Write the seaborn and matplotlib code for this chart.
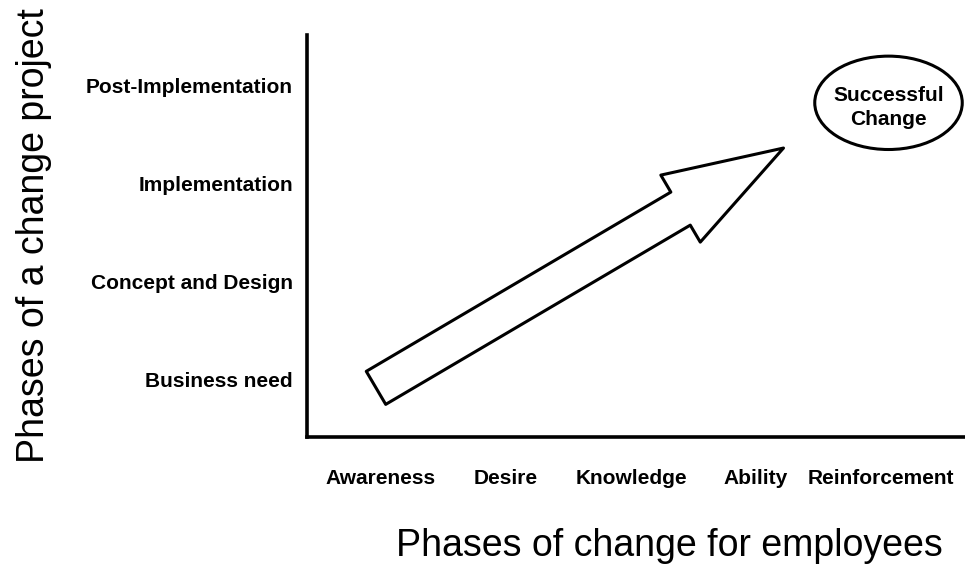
import numpy as np
import matplotlib
matplotlib.use("Agg")
import matplotlib.pyplot as plt
from matplotlib.patches import FancyArrowPatch, Ellipse, ArrowStyle
import seaborn as sns

# categories on both axes
employee_phases = ["Awareness", "Desire", "Knowledge", "Ability", "Reinforcement"]
project_phases = ["Business need", "Concept and Design", "Implementation", "Post-Implementation"]

# arrow from (Awareness, Business need) up towards (Ability, Implementation+)
arrow_start = [-0.04, -0.08]
arrow_end = [3.22, 2.36]

# the "Successful Change" bubble
goal_label = "Successful\nChange"
goal_center = [4.06, 2.82]
goal_size = [1.18, 0.95]

sns.set_theme(style="white")
plt.rcParams['font.family'] = ['Liberation Sans', 'DejaVu Sans']

fig = plt.figure(figsize=(9.65, 5.66), dpi=100)
ax = fig.add_axes([307/965, 129/566, 658/965, 402/566])

ax.set_xlim(-0.592, 4.672)
ax.set_ylim(-0.58, 3.51)

ax.set_xticks(range(len(employee_phases)))
ax.set_xticklabels(employee_phases, fontsize=15, fontweight='bold')
ax.set_yticks(range(len(project_phases)))
ax.set_yticklabels(project_phases, fontsize=15, fontweight='bold')
ax.tick_params(axis='x', length=0, pad=23, colors='black')
ax.tick_params(axis='y', length=0, pad=10, colors='black')

sns.despine(ax=ax)
for s in ['left', 'bottom']:
    ax.spines[s].set_color('black')
    ax.spines[s].set_linewidth(2.6)

ax.set_xlabel("Phases of change for employees", fontsize=27, color='black')
ax.set_ylabel("Phases of a change project", fontsize=27, color='black')
# keep the bottom title just inside the canvas
ax.xaxis.label.set_va('bottom')
ax.xaxis.set_label_coords(0.55, -0.317)
ax.yaxis.set_label_coords(-0.388, 0.50)

arrow = FancyArrowPatch(posA=arrow_start, posB=arrow_end,
                        arrowstyle=ArrowStyle.Simple(head_length=86, head_width=56, tail_width=27.6),
                        mutation_scale=1, shrinkA=0, shrinkB=0,
                        facecolor='white', edgecolor='black', linewidth=2.2)
ax.add_patch(arrow)

bubble = Ellipse(goal_center, goal_size[0], goal_size[1],
                 facecolor='white', edgecolor='black', linewidth=2.2)
ax.add_patch(bubble)
ax.text(goal_center[0], goal_center[1] - 0.05, goal_label, ha='center', va='center',
        fontsize=15, fontweight='bold', linespacing=1.3, color='black')

fig.savefig("out.png", dpi=100)
